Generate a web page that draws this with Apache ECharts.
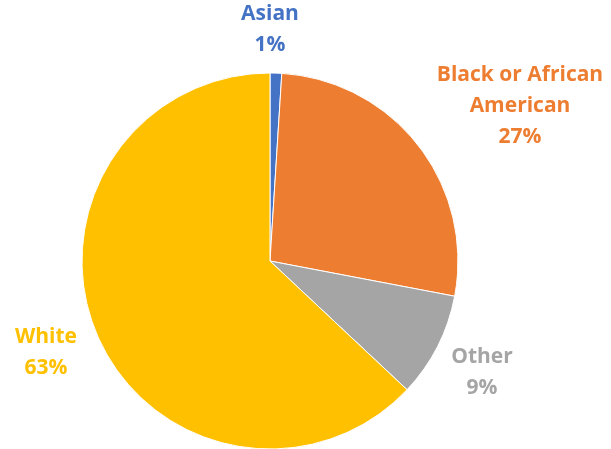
<!DOCTYPE html>
<html>
<head>
<meta charset="utf-8">
<script src="https://cdn.jsdelivr.net/npm/echarts@6/dist/echarts.min.js"></script>
<style>
  html, body { margin: 0; padding: 0; background: #ffffff; }
  #chart { width: 611px; height: 449px; }
</style>
</head>
<body>
<div id="chart"></div>
<script>
// Population share by race
const categories = ['Asian', 'Black or African\nAmerican', 'Other', 'White'];
const shares = [1, 27, 9, 63];
const colors = ['#4472C4', '#ED7D31', '#A5A5A5', '#FFC000'];

// Label block centres, one per slice
const labelSpots = [[270, 30], [520, 106], [482, 373], [46, 353]];

const chart = echarts.init(document.getElementById('chart'), null, { renderer: 'canvas' });

chart.setOption({
  animation: false,
  backgroundColor: '#ffffff',
  series: [{
    type: 'pie',
    center: [270, 261],
    radius: 188,
    startAngle: 90,
    clockwise: true,
    avoidLabelOverlap: false,
    data: categories.map((name, i) => ({
      name: name,
      value: shares[i],
      itemStyle: { color: colors[i] },
      label: { color: colors[i] }
    })),
    itemStyle: { borderColor: '#ffffff', borderWidth: 1 },
    label: {
      show: true,
      position: 'outside',
      formatter: '{b}\n{c}%',
      fontFamily: 'Open Sans',
      fontWeight: 'bold',
      fontSize: 21,
      lineHeight: 31,
      align: 'center'
    },
    labelLine: { show: false },
    labelLayout: function (params) {
      const p = labelSpots[params.dataIndex];
      return { x: p[0], y: p[1], align: 'center', verticalAlign: 'middle' };
    },
    emphasis: { disabled: true }
  }]
});
</script>
</body>
</html>
